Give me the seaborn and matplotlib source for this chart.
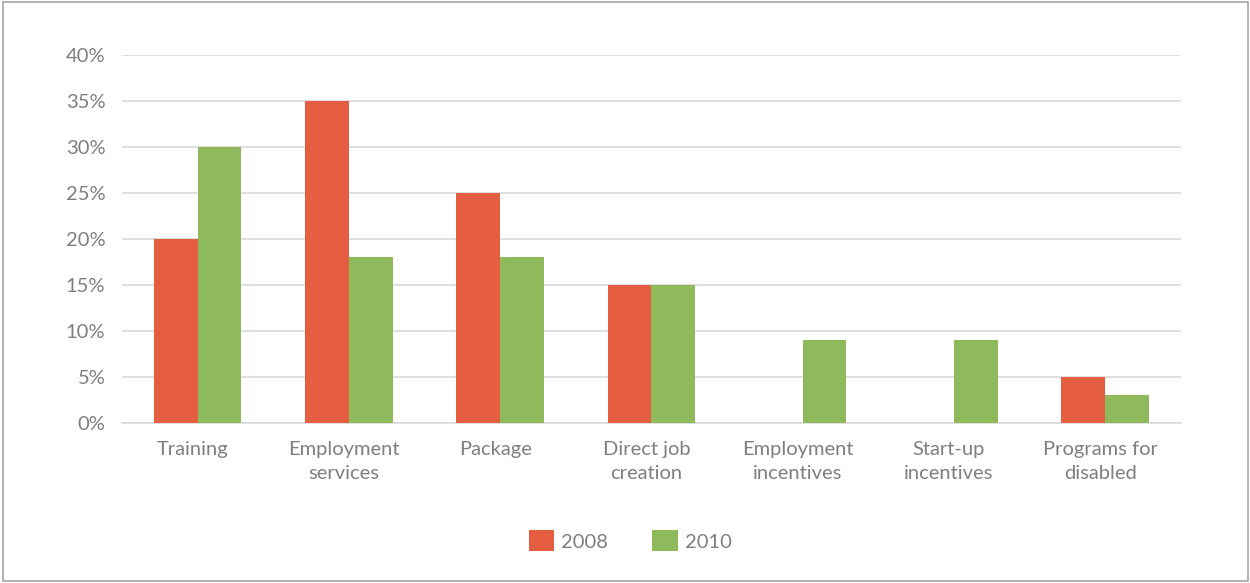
import matplotlib
matplotlib.use("Agg")
import matplotlib.pyplot as plt
import matplotlib.transforms as mtransforms
import pandas as pd
import seaborn as sns
from matplotlib.patches import Rectangle

categories = ["Training", "Employment\nservices", "Package", "Direct job\ncreation",
              "Employment\nincentives", "Start-up\nincentives", "Programs for\ndisabled"]
values_2008 = [20, 35, 25, 15, 0, 0, 5]
values_2010 = [30, 18, 18, 15, 9, 9, 3]
years = ["2008", "2010"]
colors = {"2008": "#E55E42", "2010": "#8FBA5C"}

df = pd.DataFrame({
    "category": categories * 2,
    "year": ["2008"] * len(categories) + ["2010"] * len(categories),
    "value": values_2008 + values_2010,
})

sns.set_theme(style="white")
plt.rcParams["font.family"] = ["Lato", "DejaVu Sans"]
text_color = "#7F7F7F"

fig = plt.figure(figsize=(12.5, 5.83), dpi=100)
ax = fig.add_axes([0.0976, 0.2744, 0.847, 0.6313])
sns.barplot(data=df, x="category", y="value", hue="year", hue_order=years,
            palette=colors, width=0.58, saturation=1, linewidth=0, ax=ax, zorder=3)

ax.set_ylim(0, 40)
ax.set_yticks(range(0, 41, 5))
ax.set_yticklabels([f"{t}%" for t in range(0, 41, 5)])
ax.yaxis.grid(True, color="#D9D9D9", linewidth=1.2, zorder=0)
ax.set_axisbelow(True)
ax.set_xlabel("")
ax.set_ylabel("")
for side in ["top", "right", "left"]:
    ax.spines[side].set_visible(False)
ax.spines["bottom"].set_color("#D9D9D9")
ax.spines["bottom"].set_linewidth(1.2)
ax.tick_params(axis="both", length=0, labelsize=14.5, labelcolor=text_color)
ax.tick_params(axis="y", pad=12)
ax.tick_params(axis="x", pad=13)
shift = mtransforms.ScaledTranslation(-5 / 100, 0, fig.dpi_scale_trans)
for lbl in ax.get_xticklabels():
    lbl.set_linespacing(1.5)
    lbl.set_transform(lbl.get_transform() + shift)
ax.set_xlim(-0.5, len(categories) - 0.5)

ax.legend(loc="center", bbox_to_anchor=(0.48, -0.32), ncol=2, frameon=False,
          fontsize=14.5, labelcolor=text_color, handlelength=1.25, handleheight=1.25,
          columnspacing=2.2, handletextpad=0.35)

fig.patches.append(Rectangle((0.002, 0.003), 0.996, 0.994, transform=fig.transFigure,
                             fill=False, edgecolor="#A6A6A6", linewidth=1.2))

fig.savefig("out.png", dpi=100)
